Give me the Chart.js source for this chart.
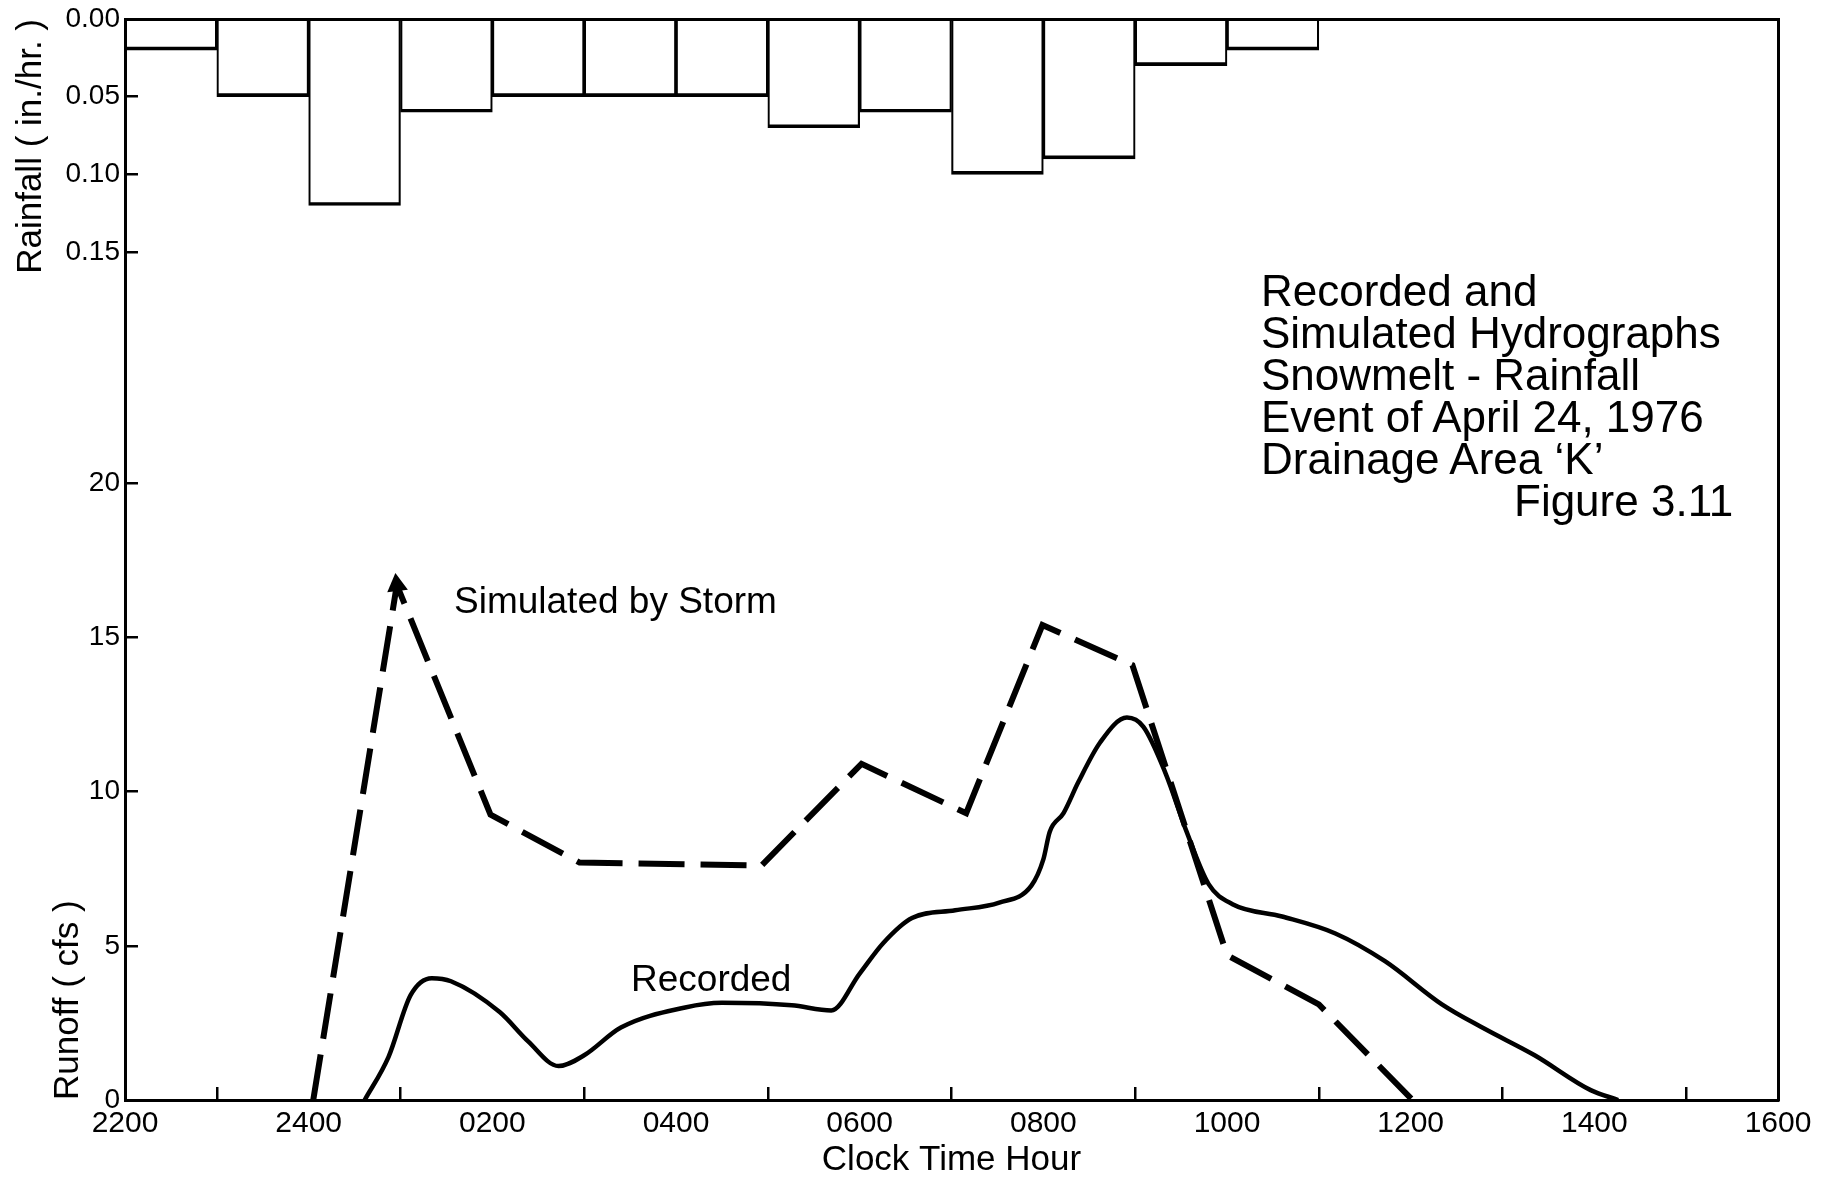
<!DOCTYPE html>
<html>
<head>
<meta charset="utf-8">
<script src="https://cdn.jsdelivr.net/npm/chart.js@4.4.1/dist/chart.umd.min.js"></script>
<style>
body{margin:0;background:#fff;}
#wrap{position:relative;width:1832px;height:1187px;font-family:"Liberation Sans",Arial,sans-serif;color:#000;}
#wrap canvas{display:block;}
.note{position:absolute;white-space:nowrap;}
</style>
</head>
<body>
<div id="wrap">
<canvas id="chart"></canvas>
<div class="note" style="left:1261px;top:270px;font-size:44px;line-height:42px;">Recorded and<br>Simulated Hydrographs<br>Snowmelt - Rainfall<br>Event of April 24, 1976<br>Drainage Area ‘K’<br><span style="padding-left:253px">Figure 3.11</span></div>
<div class="note" style="left:454px;top:582px;font-size:37px;line-height:37px;">Simulated by Storm</div>
<div class="note" style="left:631px;top:960px;font-size:37px;line-height:37px;">Recorded</div>
</div>
<script>
const FONT = '"Liberation Sans", Arial, sans-serif'

// x is hours counted from 2200
const xTickHours = [0,2,4,6,8,10,12,14,16,18]
const xTickLabels = ["2200","2400","0200","0400","0600","0800","1000","1200","1400","1600"]

// hourly rainfall, bar starts at the given hour
const rainStartHour = [0,1,2,3,4,5,6,7,8,9,10,11,12]
const rainfall = [0.02,0.05,0.12,0.06,0.05,0.05,0.05,0.07,0.06,0.10,0.09,0.03,0.02]
const rainTicks = [0.00,0.05,0.10,0.15]

const runoffTicks = [0,5,10,15,20]

const simulatedHour = [2.05,2.96,3.98,4.95,6.93,8.02,9.16,9.99,10.97,12.0,13.0,14.02]
const simulatedRunoff = [0,16.7,9.25,7.7,7.6,10.9,9.3,15.4,14.1,4.7,3.1,0]

const recordedHour = [2.61,2.87,3.11,3.34,3.55,4.08,4.39,4.72,5.0,5.4,6.1,6.5,7.26,7.69,8.0,8.26,8.57,9.04,9.52,9.87,10.0,10.07,10.22,10.38,10.62,10.91,11.09,11.33,11.56,11.8,12.06,12.6,13.18,13.72,14.34,14.81,15.35,15.96,16.26]
const recordedRunoff = [0,1.4,3.4,3.95,3.85,2.85,1.9,1.1,1.45,2.35,3.0,3.15,3.07,2.9,4.1,5.1,5.9,6.15,6.4,6.95,7.8,8.7,9.3,10.3,11.6,12.4,12.1,10.6,8.7,7.0,6.35,5.95,5.4,4.5,3.1,2.3,1.45,0.32,0]

const rainAxisMax = 0.6956
const runoffAxisMax = 35.05

Chart.defaults.font.family = FONT
Chart.defaults.color = "#000"

const xTickFont = {size:30, family:FONT}
const yTickFont = {size:28, family:FONT}
const titleFont = {size:35, family:FONT}

// put the rainfall axis on top of the runoff axis (same left strip)
const shareLeft = {
  id:"shareLeft",
  afterLayout(chart){
    const r = chart.scales.rain, f = chart.scales.runoff
    r.left = f.left
    r.right = f.right
    r.width = f.width
  }
}

function fixWidth(w){
  return s=>{ s.width = w; s.paddingTop = 0; s.paddingBottom = 0 }
}
function fixHeight(h){
  return s=>{ s.height = h; s.paddingLeft = 0; s.paddingRight = 0 }
}

new Chart(document.getElementById("chart"),{
  type:"line",
  data:{
    datasets:[
      {
        label:"Simulated by Storm",
        data: simulatedHour.map((h,i)=>({x:h,y:simulatedRunoff[i]})),
        yAxisID:"runoff",
        borderColor:"#000",
        borderWidth:6,
        borderDash:[46,16],
        borderCapStyle:"butt",
        fill:false,
        pointRadius: simulatedHour.map((h,i)=> i==1 ? 12 : 0),
        pointStyle:"triangle",
        pointRotation:-7,
        pointBackgroundColor:"#000",
        pointBorderWidth:0,
        order:1
      },
      {
        label:"Recorded",
        data: recordedHour.map((h,i)=>({x:h,y:recordedRunoff[i]})),
        yAxisID:"runoff",
        borderColor:"#000",
        borderWidth:4.5,
        cubicInterpolationMode:"monotone",
        fill:false,
        pointRadius:0,
        order:2
      },
      {
        type:"bar",
        label:"Rainfall",
        data: rainStartHour.map((h,i)=>({x:h+0.5,y:-rainfall[i]})),
        yAxisID:"rain",
        backgroundColor:"rgba(0,0,0,0)",
        borderColor:"#000",
        borderWidth:{top:0,left:1.5,right:1.5,bottom:3},
        borderSkipped:false,
        barPercentage:1,
        categoryPercentage:1,
        order:3
      }
    ]
  },
  options:{
    responsive:true,
    maintainAspectRatio:false,
    animation:false,
    layout:{padding:0},
    plugins:{legend:{display:false},tooltip:{enabled:false}},
    scales:{
      x:{
        type:"linear",position:"bottom",min:0,max:18,offset:false,
        afterBuildTicks:s=>{ s.ticks = xTickHours.map(v=>({value:v})) },
        afterFit:fixHeight(87),
        ticks:{autoSkip:false,maxRotation:0,padding:19,color:"#000",font:xTickFont,
          callback:(v,i)=>xTickLabels[i]},
        grid:{drawOnChartArea:false,tickLength:-13,color:"#000",lineWidth:2.5},
        border:{color:"#000",width:3},
        title:{display:true,text:"Clock Time Hour",color:"#000",font:titleFont,padding:{top:0,bottom:6}}
      },
      xTop:{
        type:"linear",position:"top",min:0,max:18,
        afterFit:fixHeight(19),
        ticks:{display:false},
        grid:{display:false},
        border:{color:"#000",width:3}
      },
      yRight:{
        type:"linear",position:"right",min:0,max:1,
        afterFit:fixWidth(54),
        ticks:{display:false},
        grid:{display:false},
        border:{color:"#000",width:3}
      },
      runoff:{
        type:"linear",position:"left",min:0,max:runoffAxisMax,weight:1,
        afterBuildTicks:s=>{ s.ticks = runoffTicks.map(v=>({value:v})) },
        afterFit:fixWidth(125),
        ticks:{autoSkip:false,padding:18,color:"#000",font:yTickFont,callback:v=>String(v)},
        grid:{drawOnChartArea:false,tickLength:-13,color:"#000",lineWidth:2.5},
        border:{color:"#000",width:3},
        title:{display:true,text:"Runoff ( cfs )",align:"start",color:"#000",font:titleFont,padding:{top:47,bottom:0}}
      },
      rain:{
        type:"linear",position:"left",min:-rainAxisMax,max:0,weight:0,
        afterBuildTicks:s=>{ s.ticks = rainTicks.slice().reverse().map(v=>({value:-v})) },
        afterFit:fixWidth(0),
        ticks:{autoSkip:false,padding:18,color:"#000",font:yTickFont,callback:v=>Math.abs(v).toFixed(2)},
        grid:{drawOnChartArea:false,tickLength:-13,color:"#000",lineWidth:2.5},
        border:{display:false},
        title:{display:true,text:"Rainfall ( in./hr. )",align:"end",color:"#000",font:titleFont,padding:{top:10,bottom:0}}
      }
    }
  },
  plugins:[shareLeft]
})
</script>
</body>
</html>
